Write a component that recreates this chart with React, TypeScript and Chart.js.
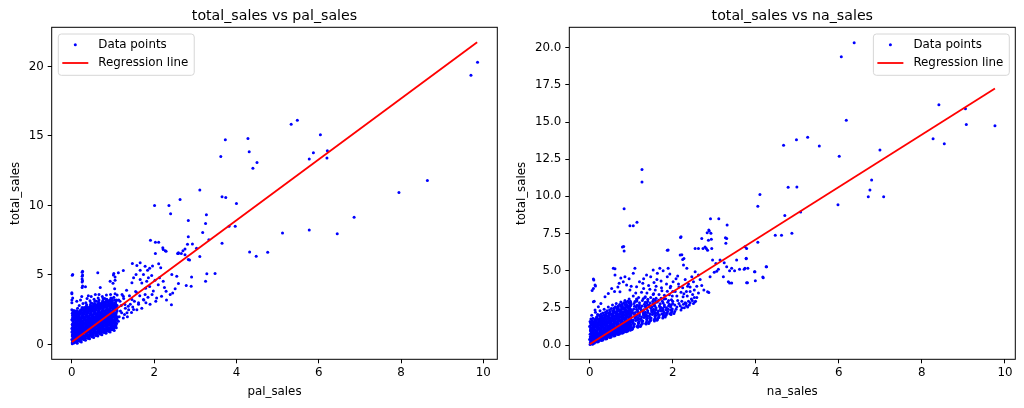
import React, { useEffect, useRef } from 'react';
import { Chart, registerables } from 'chart.js';

Chart.register(...registerables);

// axis ticks
const xTicks = [0, 2, 4, 6, 8, 10];
const palYTicks = [0, 5, 10, 15, 20];
const naYTicks = [0, 2.5, 5, 7.5, 10, 12.5, 15, 17.5, 20];

// total_sales vs pal_sales: [pal_sales, total_sales]
const palCore: number[][] = [
  [0.01, 0.05], [0.02, 0.2], [0.0, 0.35], [0.03, 0.5], [0.01, 0.68], [0.04, 0.82], [0.02, 1.0], [0.0, 1.15], [0.05, 1.3], [0.01, 1.45], [0.03, 1.62], [0.0, 1.78], [0.02, 1.93], [0.04, 2.1], [0.01, 2.25], [0.03, 2.38], [0.0, 2.5],
  [0.06, 0.12], [0.08, 0.3], [0.07, 0.55], [0.09, 0.75], [0.06, 0.95], [0.08, 1.2], [0.1, 1.4], [0.07, 1.55], [0.09, 1.75], [0.06, 1.95], [0.08, 2.15], [0.1, 2.3], [0.05, 2.45], [0.0, 3.0], [0.02, 3.35], [0.0, 3.65], [0.01, 4.98], [0.0, 0.9], [0.02, 0.75],
  [0.11, 0.15], [0.13, 0.38], [0.12, 0.6], [0.15, 0.85], [0.14, 1.05], [0.11, 1.25], [0.16, 1.5], [0.13, 1.7], [0.12, 1.9], [0.17, 2.05], [0.15, 2.3], [0.18, 0.22], [0.19, 0.45], [0.17, 0.7], [0.2, 0.95], [0.18, 1.15], [0.19, 1.38], [0.2, 1.6], [0.16, 1.82], [0.19, 2.2], [0.2, 2.45], [0.14, 2.6], [0.18, 2.8], [0.12, 3.1],
  [0.21, 0.25], [0.23, 0.5], [0.22, 0.78], [0.25, 1.0], [0.24, 1.22], [0.21, 1.45], [0.26, 1.7], [0.23, 1.95], [0.27, 2.15], [0.22, 2.4], [0.25, 2.65], [0.28, 0.35], [0.29, 0.62], [0.27, 0.9], [0.3, 1.12], [0.28, 1.35], [0.29, 1.58], [0.3, 1.85], [0.26, 2.05], [0.29, 2.3], [0.28, 2.55], [0.25, 4.1], [0.26, 4.2], [0.24, 3.45], [0.27, 2.95], [0.21, 3.2],
  [0.31, 0.35], [0.33, 0.58], [0.32, 0.85], [0.35, 1.1], [0.34, 1.32], [0.31, 1.55], [0.36, 1.8], [0.33, 2.02], [0.37, 2.25], [0.32, 2.5], [0.35, 2.75], [0.38, 0.45], [0.39, 0.72], [0.37, 0.98], [0.4, 1.22], [0.38, 1.45], [0.39, 1.7], [0.4, 1.95], [0.36, 2.15], [0.39, 2.4], [0.38, 2.65], [0.34, 3.0], [0.37, 3.3], [0.4, 3.5], [0.33, 4.15],
  [0.41, 0.45], [0.43, 0.7], [0.42, 0.95], [0.45, 1.2], [0.44, 1.42], [0.41, 1.65], [0.46, 1.9], [0.43, 2.12], [0.47, 2.35], [0.42, 2.6], [0.45, 2.85], [0.48, 0.55], [0.49, 0.82], [0.47, 1.08], [0.5, 1.3], [0.48, 1.55], [0.49, 1.8], [0.5, 2.05], [0.46, 2.25], [0.49, 2.5], [0.48, 2.75], [0.44, 3.15], [0.47, 3.45], [0.5, 2.95],
  [0.51, 0.55], [0.53, 0.8], [0.52, 1.05], [0.55, 1.3], [0.54, 1.52], [0.51, 1.75], [0.56, 2.0], [0.53, 2.22], [0.57, 2.45], [0.52, 2.7], [0.55, 2.95], [0.58, 0.65], [0.59, 0.92], [0.57, 1.18], [0.6, 1.4], [0.58, 1.65], [0.59, 1.9], [0.6, 2.15], [0.56, 2.35], [0.59, 2.6], [0.58, 2.85], [0.54, 3.25], [0.57, 3.6], [0.6, 3.1],
  [0.61, 0.65], [0.63, 0.9], [0.62, 1.15], [0.65, 1.4], [0.64, 1.62], [0.61, 1.85], [0.66, 2.1], [0.63, 2.32], [0.67, 2.55], [0.62, 2.8], [0.65, 3.05], [0.68, 0.75], [0.69, 1.02], [0.67, 1.28], [0.7, 1.5], [0.68, 1.75], [0.69, 2.0], [0.7, 2.25], [0.66, 2.45], [0.69, 2.7], [0.68, 2.95], [0.64, 3.35], [0.69, 4.1], [0.66, 3.6],
  [0.71, 0.75], [0.73, 1.0], [0.72, 1.25], [0.75, 1.5], [0.74, 1.72], [0.71, 1.95], [0.76, 2.2], [0.73, 2.42], [0.77, 2.65], [0.72, 2.9], [0.75, 3.15], [0.78, 0.85], [0.79, 1.12], [0.77, 1.38], [0.8, 1.6], [0.78, 1.85], [0.79, 2.1], [0.8, 2.35], [0.76, 2.55], [0.79, 2.8], [0.78, 3.05], [0.74, 3.45], [0.8, 3.3],
  [0.81, 0.85], [0.83, 1.1], [0.82, 1.35], [0.85, 1.6], [0.84, 1.82], [0.81, 2.05], [0.86, 2.3], [0.83, 2.52], [0.87, 2.75], [0.82, 3.0], [0.85, 3.25], [0.88, 0.95], [0.89, 1.22], [0.87, 1.48], [0.9, 1.7], [0.88, 1.95], [0.89, 2.2], [0.9, 2.45], [0.86, 2.65], [0.89, 2.9], [0.88, 3.15], [0.84, 3.55],
  [0.91, 0.95], [0.93, 1.2], [0.92, 1.45], [0.95, 1.7], [0.94, 1.92], [0.91, 2.15], [0.96, 2.4], [0.93, 2.62], [0.97, 2.85], [0.92, 3.1], [0.95, 3.35], [0.98, 1.05], [0.99, 1.32], [0.97, 1.58], [1.0, 1.8], [0.98, 2.05], [0.99, 2.3], [1.0, 2.55], [0.96, 2.75], [0.99, 3.0], [0.98, 3.3], [0.94, 3.6],
  [1.01, 1.1], [1.03, 1.35], [1.02, 1.6], [1.05, 1.85], [1.04, 2.1], [1.01, 2.35], [1.06, 2.6], [1.03, 2.85], [1.07, 3.1], [1.02, 3.4], [1.05, 3.65], [1.08, 1.2], [1.09, 1.5], [1.07, 1.75], [1.1, 2.0], [1.08, 2.28], [1.09, 2.55], [1.1, 2.8], [1.06, 3.0], [1.1, 3.55], [1.04, 4.0], [1.0, 4.4], [1.05, 4.85], [1.02, 5.1],
];
const palFill: number[][] = [
  [0.04, 0.1], [0.02, 0.28], [0.05, 0.45], [0.03, 0.62], [0.05, 0.78], [0.02, 0.92], [0.04, 1.1], [0.03, 1.25], [0.02, 1.38], [0.05, 1.55], [0.04, 1.72], [0.02, 1.85], [0.05, 2.02], [0.03, 2.18], [0.04, 2.3], [0.07, 0.22], [0.09, 0.42], [0.08, 0.65], [0.07, 0.85], [0.1, 1.05], [0.09, 1.3], [0.07, 1.48], [0.1, 1.65], [0.08, 1.85], [0.07, 2.05], [0.09, 2.22], [0.1, 2.4],
  [0.13, 0.08], [0.12, 0.25], [0.14, 0.5], [0.13, 0.72], [0.12, 0.95], [0.15, 1.15], [0.14, 1.38], [0.12, 1.6], [0.15, 1.8], [0.14, 2.0], [0.13, 2.18], [0.12, 2.42], [0.17, 0.32], [0.16, 0.58], [0.19, 0.82], [0.17, 1.05], [0.2, 1.28], [0.18, 1.5], [0.17, 1.72], [0.2, 1.92], [0.18, 2.1], [0.17, 2.35],
  [0.23, 0.18], [0.22, 0.38], [0.24, 0.62], [0.23, 0.88], [0.22, 1.1], [0.25, 1.32], [0.24, 1.58], [0.22, 1.82], [0.25, 2.05], [0.24, 2.28], [0.23, 2.52], [0.27, 0.48], [0.26, 0.75], [0.29, 1.0], [0.27, 1.22], [0.3, 1.45], [0.28, 1.7], [0.27, 1.95], [0.3, 2.18], [0.28, 2.42], [0.3, 2.65],
  [0.33, 0.3], [0.32, 0.48], [0.34, 0.72], [0.33, 0.98], [0.32, 1.2], [0.35, 1.42], [0.34, 1.68], [0.32, 1.92], [0.35, 2.15], [0.34, 2.38], [0.33, 2.62], [0.37, 0.58], [0.36, 0.85], [0.39, 1.1], [0.37, 1.32], [0.4, 1.55], [0.38, 1.8], [0.37, 2.05], [0.4, 2.28], [0.38, 2.52], [0.36, 2.85],
  [0.43, 0.4], [0.42, 0.58], [0.44, 0.82], [0.43, 1.08], [0.42, 1.3], [0.45, 1.52], [0.44, 1.78], [0.42, 2.02], [0.45, 2.25], [0.44, 2.48], [0.43, 2.72], [0.47, 0.68], [0.46, 0.95], [0.49, 1.2], [0.47, 1.42], [0.5, 1.65], [0.48, 1.9], [0.47, 2.15], [0.5, 2.38], [0.48, 2.62], [0.46, 3.0],
  [0.53, 0.5], [0.52, 0.68], [0.54, 0.92], [0.53, 1.18], [0.52, 1.4], [0.55, 1.62], [0.54, 1.88], [0.52, 2.12], [0.55, 2.35], [0.54, 2.58], [0.53, 2.82], [0.57, 0.78], [0.56, 1.05], [0.59, 1.3], [0.57, 1.52], [0.6, 1.75], [0.58, 2.0], [0.57, 2.25], [0.6, 2.48], [0.58, 2.72], [0.56, 3.1],
  [0.63, 0.6], [0.62, 0.78], [0.64, 1.02], [0.63, 1.28], [0.62, 1.5], [0.65, 1.72], [0.64, 1.98], [0.62, 2.22], [0.65, 2.45], [0.64, 2.68], [0.63, 2.92], [0.67, 0.88], [0.66, 1.15], [0.69, 1.4], [0.67, 1.62], [0.7, 1.85], [0.68, 2.1], [0.67, 2.35], [0.7, 2.58], [0.68, 2.82], [0.66, 3.2],
  [0.73, 0.7], [0.72, 0.88], [0.74, 1.12], [0.73, 1.38], [0.72, 1.6], [0.75, 1.82], [0.74, 2.08], [0.72, 2.32], [0.75, 2.55], [0.74, 2.78], [0.73, 3.02], [0.77, 0.98], [0.76, 1.25], [0.79, 1.5], [0.77, 1.72], [0.8, 1.95], [0.78, 2.2], [0.77, 2.45], [0.8, 2.68], [0.78, 2.92], [0.76, 3.3],
  [0.83, 0.8], [0.82, 0.98], [0.84, 1.22], [0.83, 1.48], [0.82, 1.7], [0.85, 1.92], [0.84, 2.18], [0.82, 2.42], [0.85, 2.65], [0.84, 2.88], [0.83, 3.12], [0.87, 1.08], [0.86, 1.35], [0.89, 1.6], [0.87, 1.82], [0.9, 2.05], [0.88, 2.3], [0.87, 2.55], [0.9, 2.78], [0.88, 3.02],
  [0.93, 0.9], [0.92, 1.08], [0.94, 1.32], [0.93, 1.58], [0.92, 1.8], [0.95, 2.02], [0.94, 2.28], [0.92, 2.52], [0.95, 2.75], [0.94, 2.98], [0.93, 3.22], [0.97, 1.18], [0.96, 1.45], [0.99, 1.7], [0.97, 1.92], [1.0, 2.15], [0.98, 2.4], [0.97, 2.65], [1.0, 2.88], [0.98, 3.12],
  [1.03, 1.0], [1.02, 1.22], [1.04, 1.48], [1.03, 1.72], [1.02, 1.98], [1.05, 2.22], [1.04, 2.48], [1.02, 2.72], [1.05, 2.98], [1.04, 3.22], [1.07, 1.35], [1.06, 1.62], [1.09, 1.88], [1.07, 2.15], [1.1, 2.4], [1.08, 2.65], [1.07, 2.9], [1.09, 3.2],
];
const palFill2: number[][] = [
  [0.015, 0.15], [0.035, 0.4], [0.015, 0.58], [0.045, 0.7], [0.025, 0.85], [0.045, 1.05], [0.015, 1.22], [0.035, 1.5], [0.025, 1.68], [0.045, 1.9], [0.015, 2.08], [0.035, 2.2],
  [0.065, 0.35], [0.085, 0.5], [0.075, 0.7], [0.095, 0.9], [0.065, 1.12], [0.085, 1.38], [0.095, 1.6], [0.065, 1.78], [0.085, 2.0], [0.075, 2.35],
  [0.115, 0.35], [0.145, 0.6], [0.125, 0.8], [0.155, 1.0], [0.115, 1.15], [0.145, 1.3], [0.125, 1.5], [0.155, 1.7], [0.115, 2.05], [0.145, 2.25],
  [0.175, 0.5], [0.195, 0.6], [0.165, 0.85], [0.185, 1.2], [0.175, 1.4], [0.195, 1.7], [0.165, 2.0], [0.185, 2.3],
  [0.215, 0.4], [0.245, 0.72], [0.225, 0.95], [0.255, 1.15], [0.215, 1.35], [0.245, 1.45], [0.225, 1.7], [0.255, 1.9], [0.215, 2.2], [0.245, 2.5],
  [0.275, 0.55], [0.295, 0.8], [0.265, 1.05], [0.285, 1.25], [0.275, 1.5], [0.295, 1.75], [0.265, 2.25], [0.285, 2.45],
  [0.315, 0.45], [0.345, 0.8], [0.325, 1.05], [0.355, 1.25], [0.315, 1.45], [0.345, 1.55], [0.325, 1.8], [0.355, 2.0], [0.315, 2.3], [0.345, 2.55],
  [0.375, 0.65], [0.395, 0.9], [0.365, 1.15], [0.385, 1.35], [0.375, 1.6], [0.395, 1.85], [0.365, 2.35], [0.385, 2.55],
  [0.415, 0.55], [0.445, 0.9], [0.425, 1.15], [0.455, 1.35], [0.415, 1.55], [0.445, 1.65], [0.425, 1.9], [0.455, 2.1], [0.415, 2.4], [0.445, 2.65],
  [0.475, 0.75], [0.495, 1.0], [0.465, 1.25], [0.485, 1.45], [0.475, 1.7], [0.495, 1.95], [0.465, 2.45], [0.485, 2.65],
  [0.515, 0.65], [0.545, 1.0], [0.525, 1.25], [0.555, 1.45], [0.515, 1.65], [0.545, 1.75], [0.525, 2.0], [0.555, 2.2], [0.515, 2.5], [0.545, 2.75],
  [0.575, 0.85], [0.595, 1.1], [0.565, 1.35], [0.585, 1.55], [0.575, 1.8], [0.595, 2.05], [0.565, 2.55], [0.585, 2.75],
  [0.615, 0.75], [0.645, 1.1], [0.625, 1.35], [0.655, 1.55], [0.615, 1.75], [0.645, 1.85], [0.625, 2.1], [0.655, 2.3], [0.615, 2.6], [0.645, 2.85],
  [0.675, 0.95], [0.695, 1.2], [0.665, 1.45], [0.685, 1.65], [0.675, 1.9], [0.695, 2.15], [0.665, 2.65], [0.685, 2.85],
  [0.715, 0.85], [0.745, 1.2], [0.725, 1.45], [0.755, 1.65], [0.715, 1.85], [0.745, 1.95], [0.725, 2.2], [0.755, 2.4], [0.715, 2.7], [0.745, 2.95],
  [0.775, 1.05], [0.795, 1.3], [0.765, 1.55], [0.785, 1.75], [0.775, 2.0], [0.795, 2.25], [0.765, 2.75], [0.785, 2.95],
  [0.815, 0.95], [0.845, 1.3], [0.825, 1.55], [0.855, 1.75], [0.815, 1.95], [0.845, 2.05], [0.825, 2.3], [0.855, 2.5], [0.815, 2.8], [0.845, 3.05],
  [0.875, 1.15], [0.895, 1.4], [0.865, 1.65], [0.885, 1.85], [0.875, 2.1], [0.895, 2.35], [0.865, 2.85], [0.885, 3.05],
  [0.915, 1.05], [0.945, 1.4], [0.925, 1.65], [0.955, 1.85], [0.915, 2.05], [0.945, 2.15], [0.925, 2.4], [0.955, 2.6], [0.915, 2.9], [0.945, 3.15],
  [0.975, 1.25], [0.995, 1.5], [0.965, 1.75], [0.985, 1.95], [0.975, 2.2], [0.995, 2.45], [0.965, 2.95], [0.985, 3.15],
  [1.015, 1.2], [1.045, 1.4], [1.025, 1.7], [1.055, 1.95], [1.015, 2.2], [1.045, 2.55], [1.025, 2.8], [1.075, 1.55], [1.095, 1.8], [1.065, 2.05], [1.085, 2.45], [1.075, 2.75],
];
const palSpread: number[][] = [
  [1.91, 7.49], [2.03, 7.35], [2.11, 7.35], [2.21, 6.95], [2.27, 6.75], [2.03, 6.54], [2.59, 6.54], [2.7, 6.75], [0.02, 5.03], [0.25, 5.2], [0.25, 4.9], [0.25, 4.7], [0.25, 4.5], [0.63, 5.15], [0.0, 3.71], [0.0, 3.2],
  [2.22, 6.83], [2.29, 6.7], [2.59, 6.59], [2.75, 6.45], [2.83, 6.11], [2.11, 5.8], [2.16, 5.51], [1.89, 5.48], [1.96, 5.64], [1.84, 5.33], [1.47, 5.82], [1.58, 5.68], [1.66, 5.34], [1.25, 5.32], [1.13, 5.15], [1.01, 5.0], [0.93, 4.55], [1.05, 4.62], [0.26, 5.27], [0.26, 4.99], [0.26, 4.58],
  [2.59, 4.38], [2.51, 4.0], [2.39, 3.59], [2.29, 3.83], [2.18, 3.47], [2.06, 3.35], [1.98, 3.85], [1.89, 4.16], [1.79, 4.04], [1.7, 4.42], [1.82, 4.55], [1.58, 3.71], [1.46, 3.23], [1.37, 2.75], [1.34, 2.28], [1.5, 2.51], [1.62, 3.0], [1.74, 3.23], [1.78, 3.59], [1.25, 3.47], [1.17, 3.11], [1.09, 2.51], [1.13, 1.67], [1.21, 2.28], [1.29, 2.87],
  [1.46, 4.43], [1.5, 4.79], [1.56, 5.03], [1.66, 4.67], [1.74, 5.03], [1.86, 4.79], [1.94, 4.96], [2.02, 4.62], [2.13, 4.79], [2.22, 4.55], [1.66, 5.87], [1.78, 5.62], [2.43, 5.03], [2.55, 4.91],
  [1.15, 2.0], [1.18, 2.4], [1.2, 2.8], [1.14, 3.2], [1.22, 3.6], [1.25, 1.9], [1.28, 2.15], [1.3, 2.6], [1.26, 3.3], [1.33, 3.9], [1.35, 2.0], [1.38, 2.5], [1.42, 2.9], [1.4, 3.5], [1.45, 2.3], [1.48, 2.7], [1.52, 3.1], [1.55, 3.8], [1.58, 2.5], [1.62, 2.9], [1.65, 3.5], [1.7, 2.6], [1.75, 3.2], [1.8, 3.0], [1.85, 3.4], [1.9, 2.9], [1.95, 3.6], [2.04, 3.1], [2.1, 4.3], [2.25, 4.1], [2.3, 3.2], [2.45, 3.7],
];
const palOutliers: number[][] = [
  [9.86, 20.3], [9.7, 19.37], [8.64, 11.8], [7.95, 10.94], [6.86, 9.15], [6.45, 7.97], [5.77, 8.24], [5.12, 8.02], [4.76, 6.63], [4.48, 6.35], [4.32, 6.66],
  [5.48, 16.14], [5.33, 15.85], [6.04, 15.09], [5.87, 13.79], [5.77, 13.34], [6.21, 13.94], [6.2, 13.41], [4.28, 14.82], [4.31, 13.86], [4.5, 13.1], [4.4, 12.67], [3.73, 14.73], [3.62, 13.53],
  [3.65, 10.63], [3.74, 10.58], [4.0, 10.15], [3.11, 11.11], [2.63, 10.42], [2.01, 9.99], [2.36, 9.99], [2.4, 9.41], [3.27, 9.34], [2.83, 8.91], [3.25, 8.71], [3.18, 8.05], [3.82, 8.5], [3.97, 8.5],
  [2.83, 7.74], [3.33, 7.54], [3.65, 7.28], [2.93, 7.23], [2.81, 7.2], [3.03, 6.92], [2.75, 6.87], [2.57, 6.54], [2.66, 6.54], [3.11, 6.32], [2.86, 6.08], [3.48, 5.1], [3.28, 5.08], [2.91, 4.86], [3.25, 4.55], [2.9, 4.19], [2.78, 4.24], [2.42, 2.85],
];
const palFit: number[][] = [[0, 0.17], [9.85, 21.74]];

// total_sales vs na_sales: [na_sales, total_sales]
const naCore: number[][] = [
  [0.01, 0.04], [0.02, 0.2], [0.0, 0.38], [0.03, 0.55], [0.01, 0.72], [0.04, 0.9], [0.02, 1.08], [0.0, 1.25], [0.05, 1.42], [0.01, 1.58], [0.06, 0.12], [0.08, 0.3], [0.07, 0.48], [0.09, 0.66], [0.06, 0.85], [0.08, 1.02], [0.1, 1.2], [0.07, 1.38], [0.09, 1.55], [0.03, 1.75], [0.08, 1.8], [0.05, 2.0],
  [0.11, 0.12], [0.13, 0.3], [0.12, 0.5], [0.15, 0.7], [0.14, 0.9], [0.11, 1.1], [0.16, 1.3], [0.13, 1.5], [0.12, 1.7], [0.17, 1.88], [0.18, 0.2], [0.19, 0.42], [0.17, 0.6], [0.2, 0.8], [0.18, 1.0], [0.19, 1.2], [0.2, 1.42], [0.16, 1.62], [0.19, 2.05], [0.14, 2.2],
  [0.21, 0.22], [0.23, 0.42], [0.22, 0.62], [0.25, 0.82], [0.24, 1.02], [0.21, 1.22], [0.26, 1.42], [0.23, 1.62], [0.27, 1.82], [0.22, 2.02], [0.28, 0.3], [0.29, 0.52], [0.27, 0.72], [0.3, 0.92], [0.28, 1.12], [0.29, 1.32], [0.3, 1.55], [0.26, 1.75], [0.29, 1.98], [0.25, 2.3],
  [0.31, 0.32], [0.33, 0.52], [0.32, 0.72], [0.35, 0.92], [0.34, 1.12], [0.31, 1.32], [0.36, 1.52], [0.33, 1.72], [0.37, 1.92], [0.32, 2.15], [0.38, 0.4], [0.39, 0.62], [0.37, 0.82], [0.4, 1.02], [0.38, 1.22], [0.39, 1.45], [0.4, 1.68], [0.36, 1.85], [0.39, 2.1], [0.35, 2.4],
  [0.41, 0.42], [0.43, 0.62], [0.42, 0.82], [0.45, 1.02], [0.44, 1.22], [0.41, 1.42], [0.46, 1.62], [0.43, 1.85], [0.47, 2.05], [0.42, 2.3], [0.48, 0.5], [0.49, 0.72], [0.47, 0.92], [0.5, 1.12], [0.48, 1.32], [0.49, 1.55], [0.5, 1.78], [0.46, 1.98], [0.49, 2.22], [0.45, 2.55],
  [0.51, 0.52], [0.53, 0.72], [0.52, 0.92], [0.55, 1.12], [0.54, 1.32], [0.51, 1.55], [0.56, 1.75], [0.53, 1.98], [0.57, 2.2], [0.52, 2.45], [0.58, 0.6], [0.59, 0.82], [0.57, 1.02], [0.6, 1.22], [0.58, 1.45], [0.59, 1.68], [0.6, 1.9], [0.56, 2.1], [0.59, 2.35], [0.55, 2.7],
  [0.61, 0.62], [0.63, 0.82], [0.62, 1.05], [0.65, 1.25], [0.64, 1.45], [0.61, 1.68], [0.66, 1.9], [0.63, 2.12], [0.67, 2.35], [0.62, 2.58], [0.68, 0.7], [0.69, 0.92], [0.67, 1.12], [0.7, 1.35], [0.68, 1.58], [0.69, 1.8], [0.7, 2.02], [0.66, 2.25], [0.69, 2.5], [0.64, 2.8],
  [0.71, 0.72], [0.73, 0.95], [0.72, 1.15], [0.75, 1.38], [0.74, 1.6], [0.71, 1.82], [0.76, 2.05], [0.73, 2.28], [0.77, 2.5], [0.72, 2.72], [0.78, 0.8], [0.79, 1.02], [0.77, 1.25], [0.8, 1.48], [0.78, 1.7], [0.79, 1.92], [0.8, 2.15], [0.76, 2.38], [0.79, 2.62], [0.75, 2.9],
  [0.81, 0.82], [0.83, 1.05], [0.82, 1.28], [0.85, 1.5], [0.84, 1.72], [0.81, 1.95], [0.86, 2.18], [0.83, 2.4], [0.87, 2.62], [0.82, 2.85], [0.88, 0.9], [0.89, 1.12], [0.87, 1.35], [0.9, 1.58], [0.88, 1.82], [0.89, 2.05], [0.9, 2.28], [0.86, 2.5], [0.89, 2.75], [0.85, 3.0],
  [0.91, 0.92], [0.93, 1.15], [0.92, 1.38], [0.95, 1.6], [0.94, 1.82], [0.91, 2.05], [0.96, 2.28], [0.93, 2.5], [0.97, 2.72], [0.92, 2.95], [0.98, 1.0], [0.99, 1.22], [0.97, 1.45], [1.0, 1.68], [0.98, 1.92], [0.99, 2.15], [1.0, 2.38], [0.96, 2.6], [0.99, 2.85], [0.95, 3.1],
  [1.02, 1.04], [1.06, 1.3], [1.04, 1.55], [1.1, 1.8], [1.08, 2.05], [1.03, 2.3], [1.12, 2.55], [1.07, 2.8], [1.14, 3.05], [1.05, 3.3], [1.16, 1.2], [1.18, 1.45], [1.15, 1.7], [1.2, 1.95], [1.17, 2.2], [1.19, 2.45], [1.2, 2.7], [1.13, 2.95], [1.18, 3.2], [1.11, 3.5],
  [1.22, 1.25], [1.26, 1.5], [1.24, 1.75], [1.3, 2.0], [1.28, 2.25], [1.23, 2.5], [1.32, 2.75], [1.27, 3.0], [1.34, 3.25], [1.25, 3.55], [1.36, 1.42], [1.38, 1.68], [1.35, 1.92], [1.4, 2.18], [1.37, 2.42], [1.39, 2.68], [1.4, 2.95], [1.33, 3.2], [1.38, 3.5], [1.3, 3.8],
  [1.42, 1.45], [1.46, 1.7], [1.44, 1.95], [1.5, 2.2], [1.48, 2.45], [1.43, 2.7], [1.52, 2.95], [1.47, 3.2], [1.54, 3.45], [1.45, 3.75], [1.56, 1.62], [1.58, 1.88], [1.55, 2.12], [1.6, 2.38], [1.57, 2.62], [1.59, 2.88], [1.6, 3.15], [1.53, 3.4], [1.58, 3.7],
  [1.62, 1.66], [1.66, 1.9], [1.64, 2.15], [1.7, 2.4], [1.68, 2.65], [1.63, 2.9], [1.72, 3.15], [1.67, 3.4], [1.74, 3.65], [1.76, 1.82], [1.78, 2.08], [1.75, 2.32], [1.8, 2.58], [1.77, 2.82], [1.79, 3.1], [1.8, 3.35], [1.73, 3.85],
  [1.82, 1.88], [1.86, 2.12], [1.84, 2.38], [1.9, 2.62], [1.88, 2.88], [1.83, 3.12], [1.92, 3.38], [1.87, 3.62], [1.94, 3.85], [1.96, 2.05], [1.98, 2.3], [1.95, 2.55], [2.0, 2.8], [1.97, 3.05], [1.99, 3.3], [2.0, 3.6],
  [2.03, 2.12], [2.08, 2.4], [2.05, 2.7], [2.12, 3.0], [2.1, 3.3], [2.06, 3.6], [2.15, 3.9], [2.2, 2.35], [2.18, 2.65], [2.22, 2.95], [2.25, 3.25], [2.2, 3.55], [2.28, 2.5], [2.3, 2.85], [2.27, 3.45], [2.24, 3.85], [2.14, 4.1],
  [2.33, 2.65], [2.38, 2.95], [2.35, 3.3], [2.42, 3.6], [2.4, 2.7], [2.45, 3.1], [2.5, 2.8], [2.48, 3.4], [2.55, 2.95], [2.52, 3.7], [2.36, 3.95], [2.58, 3.2],
];
const naFill: number[][] = [
  [0.02, 0.1], [0.04, 0.28], [0.02, 0.46], [0.05, 0.63], [0.03, 0.8], [0.02, 0.98], [0.04, 1.16], [0.03, 1.33], [0.02, 1.5], [0.07, 0.05], [0.08, 0.2], [0.09, 0.38], [0.07, 0.58], [0.1, 0.75], [0.08, 0.92], [0.07, 1.1], [0.1, 1.3], [0.08, 1.47], [0.06, 1.65],
  [0.12, 0.2], [0.14, 0.4], [0.12, 0.6], [0.15, 0.8], [0.13, 1.0], [0.12, 1.2], [0.14, 1.4], [0.13, 1.6], [0.15, 1.78], [0.17, 0.3], [0.18, 0.5], [0.19, 0.7], [0.17, 0.9], [0.2, 1.1], [0.18, 1.3], [0.17, 1.52], [0.2, 1.72], [0.18, 1.9],
  [0.22, 0.3], [0.24, 0.52], [0.22, 0.72], [0.25, 0.92], [0.23, 1.12], [0.22, 1.32], [0.24, 1.52], [0.23, 1.72], [0.25, 1.92], [0.27, 0.4], [0.28, 0.62], [0.29, 0.82], [0.27, 1.02], [0.3, 1.22], [0.28, 1.42], [0.27, 1.65], [0.3, 1.85], [0.28, 2.08],
  [0.32, 0.4], [0.34, 0.62], [0.32, 0.82], [0.35, 1.02], [0.33, 1.22], [0.32, 1.42], [0.34, 1.62], [0.33, 1.82], [0.35, 2.02], [0.37, 0.5], [0.38, 0.72], [0.39, 0.92], [0.37, 1.12], [0.4, 1.32], [0.38, 1.55], [0.37, 1.75], [0.4, 1.95], [0.38, 2.2],
  [0.42, 0.5], [0.44, 0.72], [0.42, 0.92], [0.45, 1.12], [0.43, 1.32], [0.42, 1.52], [0.44, 1.72], [0.43, 1.95], [0.45, 2.15], [0.47, 0.6], [0.48, 0.82], [0.49, 1.02], [0.47, 1.22], [0.5, 1.42], [0.48, 1.65], [0.47, 1.88], [0.5, 2.08], [0.48, 2.35],
  [0.52, 0.6], [0.54, 0.82], [0.52, 1.02], [0.55, 1.22], [0.53, 1.42], [0.52, 1.65], [0.54, 1.85], [0.53, 2.08], [0.55, 2.3], [0.57, 0.7], [0.58, 0.92], [0.59, 1.12], [0.57, 1.32], [0.6, 1.55], [0.58, 1.78], [0.57, 2.0], [0.6, 2.22], [0.58, 2.48],
  [0.62, 0.7], [0.64, 0.92], [0.62, 1.15], [0.65, 1.35], [0.63, 1.55], [0.62, 1.78], [0.64, 2.0], [0.63, 2.22], [0.65, 2.45], [0.67, 0.8], [0.68, 1.02], [0.69, 1.22], [0.67, 1.45], [0.7, 1.68], [0.68, 1.9], [0.67, 2.12], [0.7, 2.35], [0.68, 2.6],
  [0.72, 0.8], [0.74, 1.05], [0.72, 1.25], [0.75, 1.48], [0.73, 1.7], [0.72, 1.92], [0.74, 2.15], [0.73, 2.38], [0.75, 2.6], [0.77, 0.9], [0.78, 1.12], [0.79, 1.35], [0.77, 1.58], [0.8, 1.8], [0.78, 2.02], [0.77, 2.25], [0.8, 2.5], [0.78, 2.75],
  [0.82, 0.9], [0.84, 1.15], [0.82, 1.38], [0.85, 1.6], [0.83, 1.82], [0.82, 2.05], [0.84, 2.28], [0.83, 2.5], [0.85, 2.72], [0.87, 1.0], [0.88, 1.22], [0.89, 1.45], [0.87, 1.68], [0.9, 1.92], [0.88, 2.15], [0.87, 2.38], [0.9, 2.62], [0.88, 2.88],
  [0.92, 1.0], [0.94, 1.25], [0.92, 1.48], [0.95, 1.7], [0.93, 1.92], [0.92, 2.15], [0.94, 2.38], [0.93, 2.6], [0.95, 2.82], [0.97, 1.1], [0.98, 1.32], [0.99, 1.55], [0.97, 1.8], [1.0, 2.02], [0.98, 2.25], [0.97, 2.48], [1.0, 2.72], [0.98, 2.95],
  [1.04, 1.15], [1.08, 1.42], [1.05, 1.68], [1.12, 1.92], [1.1, 2.18], [1.06, 2.42], [1.14, 2.68], [1.09, 2.92], [1.16, 1.32], [1.19, 1.58], [1.17, 1.82], [1.2, 2.08], [1.15, 2.32], [1.18, 2.58], [1.2, 2.85], [1.13, 3.1],
  [1.24, 1.35], [1.28, 1.62], [1.25, 1.88], [1.32, 2.12], [1.3, 2.38], [1.26, 2.62], [1.34, 2.88], [1.29, 3.12], [1.37, 1.55], [1.39, 1.8], [1.36, 2.05], [1.4, 2.3], [1.35, 2.55], [1.38, 2.82], [1.4, 3.08],
  [1.44, 1.58], [1.48, 1.82], [1.45, 2.08], [1.52, 2.32], [1.5, 2.58], [1.46, 2.82], [1.54, 3.08], [1.57, 1.75], [1.59, 2.0], [1.56, 2.25], [1.6, 2.5], [1.55, 2.75], [1.58, 3.02],
  [1.64, 1.78], [1.68, 2.02], [1.65, 2.28], [1.72, 2.52], [1.7, 2.78], [1.66, 3.02], [1.77, 1.95], [1.79, 2.2], [1.76, 2.45], [1.8, 2.7], [1.75, 2.95],
  [1.84, 2.0], [1.88, 2.25], [1.85, 2.5], [1.92, 2.75], [1.9, 3.0], [1.97, 2.18], [1.99, 2.42], [1.96, 2.68], [2.0, 2.95],
  [2.05, 2.25], [2.1, 2.55], [2.15, 2.8], [2.22, 2.5], [2.26, 2.75], [2.32, 2.8], [2.36, 2.55], [2.42, 2.85], [2.47, 3.0], [2.52, 3.2],
];
const naFill2: number[][] = [
  [0.015, 0.15], [0.035, 0.35], [0.015, 0.55], [0.045, 0.75], [0.025, 0.95], [0.045, 1.12], [0.015, 1.3], [0.035, 1.48],
  [0.065, 0.25], [0.085, 0.42], [0.075, 0.62], [0.095, 0.82], [0.065, 1.0], [0.085, 1.25], [0.095, 1.45], [0.065, 1.55],
  [0.115, 0.25], [0.145, 0.45], [0.125, 0.65], [0.155, 0.85], [0.115, 1.05], [0.145, 1.25], [0.125, 1.45], [0.155, 1.65],
  [0.175, 0.4], [0.195, 0.55], [0.165, 0.75], [0.185, 0.95], [0.175, 1.15], [0.195, 1.35], [0.165, 1.55], [0.185, 1.8],
  [0.215, 0.35], [0.245, 0.55], [0.225, 0.75], [0.255, 0.95], [0.215, 1.15], [0.245, 1.35], [0.225, 1.55], [0.255, 1.75],
  [0.275, 0.5], [0.295, 0.65], [0.265, 0.85], [0.285, 1.05], [0.275, 1.25], [0.295, 1.45], [0.265, 1.65], [0.285, 1.9],
  [0.315, 0.45], [0.345, 0.65], [0.325, 0.85], [0.355, 1.05], [0.315, 1.25], [0.345, 1.45], [0.325, 1.65], [0.355, 1.85],
  [0.375, 0.6], [0.395, 0.75], [0.365, 0.95], [0.385, 1.15], [0.375, 1.35], [0.395, 1.55], [0.365, 1.75], [0.385, 2.0],
  [0.415, 0.55], [0.445, 0.75], [0.425, 0.95], [0.455, 1.15], [0.415, 1.35], [0.445, 1.55], [0.425, 1.75], [0.455, 1.95],
  [0.475, 0.7], [0.495, 0.85], [0.465, 1.05], [0.485, 1.25], [0.475, 1.45], [0.495, 1.65], [0.465, 1.85], [0.485, 2.1],
  [0.515, 0.65], [0.545, 0.85], [0.525, 1.05], [0.555, 1.25], [0.515, 1.45], [0.545, 1.65], [0.525, 1.85], [0.555, 2.05],
  [0.575, 0.8], [0.595, 0.95], [0.565, 1.15], [0.585, 1.35], [0.575, 1.55], [0.595, 1.75], [0.565, 1.95], [0.585, 2.2],
  [0.615, 0.75], [0.645, 0.95], [0.625, 1.15], [0.655, 1.35], [0.615, 1.55], [0.645, 1.75], [0.625, 1.95], [0.655, 2.15],
  [0.675, 0.9], [0.695, 1.05], [0.665, 1.25], [0.685, 1.45], [0.675, 1.65], [0.695, 1.85], [0.665, 2.05], [0.685, 2.3],
  [0.715, 0.85], [0.745, 1.1], [0.725, 1.3], [0.755, 1.5], [0.715, 1.7], [0.745, 1.9], [0.725, 2.1], [0.755, 2.3],
  [0.775, 1.0], [0.795, 1.18], [0.765, 1.4], [0.785, 1.6], [0.775, 1.8], [0.795, 2.0], [0.765, 2.2], [0.785, 2.45],
  [0.815, 0.95], [0.845, 1.2], [0.825, 1.4], [0.855, 1.6], [0.815, 1.8], [0.845, 2.0], [0.825, 2.2], [0.855, 2.4],
  [0.875, 1.1], [0.895, 1.28], [0.865, 1.5], [0.885, 1.7], [0.875, 1.9], [0.895, 2.1], [0.865, 2.3], [0.885, 2.55],
  [0.915, 1.05], [0.945, 1.3], [0.925, 1.5], [0.955, 1.7], [0.915, 1.9], [0.945, 2.1], [0.925, 2.3], [0.955, 2.5],
  [0.975, 1.2], [0.995, 1.38], [0.965, 1.6], [0.985, 1.8], [0.975, 2.0], [0.995, 2.2], [0.965, 2.4], [0.985, 2.65],
  [1.03, 1.1], [1.07, 1.25], [1.05, 1.45], [1.11, 1.65], [1.09, 1.9], [1.04, 2.15], [1.13, 2.4], [1.08, 2.6], [1.15, 1.25], [1.17, 1.5], [1.19, 1.75], [1.14, 2.0], [1.16, 2.25], [1.19, 2.55],
  [1.23, 1.3], [1.27, 1.45], [1.25, 1.65], [1.31, 1.85], [1.29, 2.1], [1.24, 2.35], [1.33, 2.6], [1.35, 1.45], [1.37, 1.75], [1.39, 1.95], [1.34, 2.2], [1.36, 2.45],
  [1.43, 1.5], [1.47, 1.65], [1.45, 1.85], [1.51, 2.05], [1.49, 2.3], [1.44, 2.55], [1.53, 2.8], [1.55, 1.7], [1.57, 1.95], [1.59, 2.15], [1.54, 2.4], [1.56, 2.65],
  [1.63, 1.72], [1.67, 1.85], [1.65, 2.05], [1.71, 2.3], [1.69, 2.55], [1.74, 2.1], [1.78, 1.9], [1.77, 2.35], [1.81, 1.95], [1.85, 2.15], [1.89, 2.4], [1.93, 2.1], [1.95, 2.35],
];
const naSpread: number[][] = [
  [1.89, 6.39], [2.19, 7.24], [2.18, 6.05], [2.24, 5.76], [2.54, 6.5], [2.62, 6.5], [2.78, 6.59], [2.84, 6.38], [2.88, 7.67], [2.92, 7.51], [3.3, 7.17], [3.28, 6.84], [2.7, 7.17],
  [2.96, 5.72], [3.04, 5.49], [3.14, 5.72], [3.24, 5.54], [3.3, 5.27], [3.42, 5.16], [3.54, 5.72], [3.74, 5.16], [3.78, 6.5], [3.77, 5.83], [3.98, 4.93], [2.84, 3.59], [3.34, 4.26], [3.78, 4.19], [4.18, 4.53], [4.25, 5.27],
  [2.54, 4.93], [2.62, 4.71], [2.46, 4.6], [2.34, 5.16], [2.26, 5.38], [1.89, 5.16], [1.93, 4.77], [2.01, 4.26], [1.87, 4.6], [1.77, 5.0], [1.69, 5.16], [1.63, 4.82], [1.53, 5.04], [1.47, 4.6], [1.37, 4.71], [1.28, 4.15], [1.2, 4.26], [1.13, 3.92],
  [0.57, 5.16], [0.61, 4.71], [1.09, 5.16], [1.05, 4.82], [0.81, 4.26], [0.71, 4.15], [0.89, 4.03], [0.97, 3.7], [0.73, 3.58], [0.53, 3.81], [0.45, 3.47], [0.37, 3.25], [0.27, 2.8], [0.21, 2.58], [0.13, 2.35], [0.09, 3.81], [0.13, 4.03], [0.1, 4.37], [0.09, 2.91],
  [2.3, 4.4], [2.38, 4.1], [2.42, 3.9], [2.33, 3.6], [2.5, 4.25], [2.58, 3.95], [2.62, 3.5], [2.7, 4.0], [2.75, 3.7], [2.66, 4.4], [2.9, 4.6], [3.0, 4.9], [3.1, 5.1],
  [1.55, 4.2], [1.62, 4.4], [1.72, 4.3], [1.85, 4.1], [1.95, 3.95], [2.08, 4.45], [2.12, 4.65], [1.42, 4.0], [1.6, 3.95], [1.3, 4.45], [0.95, 4.45], [0.85, 4.6], [0.68, 3.9], [0.6, 3.6], [0.75, 4.5], [1.0, 3.95],
];
const naOutliers: number[][] = [
  [6.37, 20.33], [6.06, 19.39], [6.18, 15.11], [8.41, 16.16], [9.05, 15.89], [9.07, 14.84], [9.76, 14.75], [8.27, 13.88], [8.54, 13.54], [6.99, 13.11], [6.79, 11.1], [6.75, 10.42], [6.71, 9.97], [7.08, 9.97],
  [6.01, 12.69], [5.98, 9.44], [5.53, 13.38], [5.25, 13.97], [4.98, 13.81], [4.67, 13.43], [4.78, 10.61], [4.99, 10.63], [5.08, 8.94], [4.7, 8.72], [4.87, 7.51], [4.62, 7.38], [4.47, 7.38],
  [4.1, 10.13], [4.05, 9.33], [4.05, 6.91], [4.26, 5.27], [4.17, 4.57], [3.99, 4.33], [3.97, 4.93], [3.81, 5.17], [3.8, 4.19], [3.74, 6.61], [3.77, 5.8], [3.31, 8.07], [3.11, 8.49], [2.91, 8.49],
  [2.87, 7.73], [2.83, 7.55], [3.27, 7.22], [2.93, 7.12], [2.73, 6.49], [2.81, 6.49], [2.94, 6.49], [2.86, 7.05], [2.2, 7.28], [1.26, 11.81], [1.26, 10.96], [1.14, 8.25], [1.05, 8.03], [0.97, 8.02], [0.83, 9.17],
  [0.82, 6.63], [0.79, 6.6], [0.83, 6.32], [1.87, 6.37], [2.22, 6.07], [2.27, 5.82], [0.61, 5.13], [0.09, 4.44], [0.14, 3.97], [0.06, 3.66], [0.11, 2.95], [2.87, 3.54], [2.53, 2.9],
  [3.37, 5.0], [3.49, 5.0], [3.61, 5.1], [3.06, 4.97], [3.22, 4.59], [3.42, 4.18], [3.37, 4.18], [3.72, 5.1],
];
const naFit: number[][] = [[0, 0.05], [9.76, 17.26]];

const FONT = '"DejaVu Sans", sans-serif';
const FS = 11.85;

const decor = {
  id: 'decor',
  afterDatasetsDraw(chart: any, _args: any, opts: any) {
    const { ctx, chartArea: a } = chart;
    ctx.save();
    ctx.strokeStyle = '#000';
    ctx.lineWidth = 1;
    ctx.strokeRect(a.left, a.top, a.right - a.left, a.bottom - a.top);

    // legend box
    ctx.font = `${FS}px ${FONT}`;
    const tw = ctx.measureText('Regression line').width;
    const w = 40 + tw + 6;
    const h = 41.3;
    const bx = opts.legend === 'left' ? a.left + 6.6 : a.right - 6 - w;
    const by = a.top + 6.7;
    ctx.beginPath();
    ctx.roundRect(bx, by, w, h, 3);
    ctx.fillStyle = 'rgba(255,255,255,0.8)';
    ctx.fill();
    ctx.strokeStyle = '#d6d6d6';
    ctx.stroke();
    ctx.fillStyle = '#0000ff';
    ctx.beginPath();
    ctx.arc(bx + 17, by + 10.7, 1.5, 0, Math.PI * 2);
    ctx.fill();
    ctx.strokeStyle = '#ff0000';
    ctx.lineWidth = 1.8;
    ctx.beginPath();
    ctx.moveTo(bx + 4, by + 29);
    ctx.lineTo(bx + 30, by + 29);
    ctx.stroke();
    ctx.fillStyle = '#000';
    ctx.textBaseline = 'middle';
    ctx.textAlign = 'left';
    ctx.fillText('Data points', bx + 40, by + 10.7);
    ctx.fillText('Regression line', bx + 40, by + 29);

    // titles
    const cx = (a.left + a.right) / 2;
    ctx.textAlign = 'center';
    ctx.textBaseline = 'alphabetic';
    ctx.font = `14.2px ${FONT}`;
    ctx.fillText(opts.title, cx, 20.2);
    ctx.font = `${FS}px ${FONT}`;
    ctx.fillText(opts.xLabel, cx, 395);
    ctx.translate(opts.yLabelX, (a.top + a.bottom) / 2);
    ctx.rotate(-Math.PI / 2);
    ctx.fillText(opts.yLabel, 0, 0);
    ctx.restore();
  },
};

type PanelProps = {
  groups: number[][][];
  fit: number[][];
  yTicks: number[];
  xMax: number;
  yMin: number;
  yMax: number;
  axisWidth: number;
  rightPad: number;
  decimals: number;
  title: string;
  xLabel: string;
  yLabelX: number;
  legend: string;
};

const Panel: React.FC<PanelProps> = (p) => {
  const canvasRef = useRef<HTMLCanvasElement>(null);
  const chartRef = useRef<Chart | null>(null);

  useEffect(() => {
    if (!canvasRef.current) return;
    if (chartRef.current) chartRef.current.destroy();
    const pts = p.groups.flat().map(([x, y]) => ({ x, y }));
    chartRef.current = new Chart(canvasRef.current, {
      type: 'scatter',
      data: {
        datasets: [
          {
            type: 'line',
            label: 'Regression line',
            data: p.fit.map(([x, y]) => ({ x, y })),
            borderColor: '#ff0000',
            borderWidth: 1.8,
            pointRadius: 0,
            showLine: true,
            fill: false,
          },
          {
            label: 'Data points',
            data: pts,
            backgroundColor: '#0000ff',
            pointRadius: 1.5,
            pointBorderWidth: 0,
          },
        ],
      } as any,
      options: {
        animation: false,
        responsive: true,
        maintainAspectRatio: false,
        layout: { padding: { left: 0, top: 27.3, right: p.rightPad, bottom: 0 } },
        plugins: {
          legend: { display: false },
          tooltip: { enabled: false },
          decor: { title: p.title, xLabel: p.xLabel, yLabel: 'total_sales', yLabelX: p.yLabelX, legend: p.legend },
        } as any,
        scales: {
          x: {
            type: 'linear',
            min: -0.49,
            max: p.xMax,
            afterBuildTicks: (s: any) => {
              s.ticks = xTicks.map((v) => ({ value: v }));
            },
            afterFit: (s: any) => {
              s.height = 48.7;
            },
            border: { display: false },
            grid: { drawOnChartArea: false, drawTicks: true, tickLength: 4, tickColor: '#000', tickWidth: 1 },
            ticks: { color: '#000', padding: 3, font: { family: FONT, size: FS }, maxRotation: 0 },
          },
          y: {
            type: 'linear',
            min: p.yMin,
            max: p.yMax,
            afterBuildTicks: (s: any) => {
              s.ticks = p.yTicks.map((v) => ({ value: v }));
            },
            afterFit: (s: any) => {
              s.width = p.axisWidth;
            },
            border: { display: false },
            grid: { drawOnChartArea: false, drawTicks: true, tickLength: 4, tickColor: '#000', tickWidth: 1 },
            ticks: {
              color: '#000',
              padding: 4,
              font: { family: FONT, size: FS },
              callback: (v: any) => Number(v).toFixed(p.decimals),
            },
          },
        },
      },
      plugins: [decor],
    });
    return () => {
      if (chartRef.current) {
        chartRef.current.destroy();
        chartRef.current = null;
      }
    };
  }, []);

  return (
    <div style={{ position: 'relative', width: 512, height: 408 }}>
      <canvas ref={canvasRef}></canvas>
    </div>
  );
};

export default function App() {
  return (
    <div style={{ position: 'absolute', left: 0, top: 0, width: 1024, height: 408, display: 'flex', background: '#fff' }}>
      <Panel
        groups={[palCore, palFill, palFill2, palSpread, palOutliers]}
        fit={palFit}
        yTicks={palYTicks}
        xMax={10.34}
        yMin={-1.07}
        yMax={22.82}
        axisWidth={51.7}
        rightPad={14.7}
        decimals={0}
        title="total_sales vs pal_sales"
        xLabel="pal_sales"
        yLabelX={18.5}
        legend="left"
      />
      <Panel
        groups={[naCore, naFill, naFill2, naSpread, naOutliers]}
        fit={naFit}
        yTicks={naYTicks}
        xMax={10.25}
        yMin={-0.96}
        yMax={21.37}
        axisWidth={57.3}
        rightPad={8.7}
        decimals={1}
        title="total_sales vs na_sales"
        xLabel="na_sales"
        yLabelX={12.7}
        legend="right"
      />
    </div>
  );
}
